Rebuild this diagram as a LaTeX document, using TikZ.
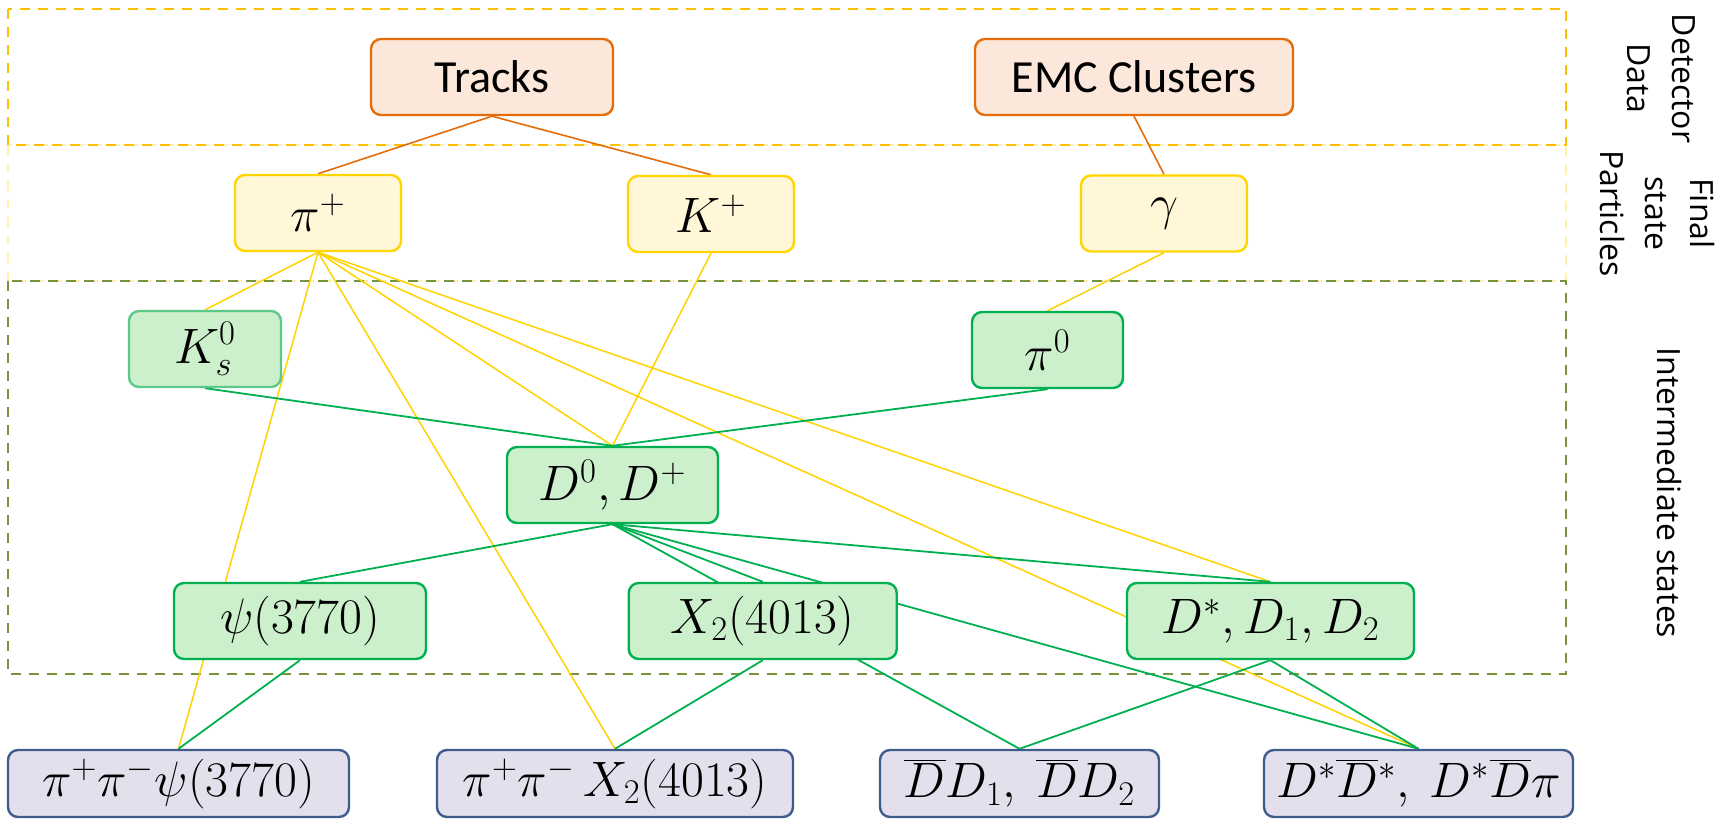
\documentclass[tikz,border=0pt]{standalone}
\usepackage[no-math]{fontspec}
\setmainfont{Carlito}
\newfontfamily\labfont{Open Sans}
\pgfdeclarelayer{back}
\pgfdeclarelayer{wires}
\pgfsetlayers{back,wires,main}
\definecolor{detB}{RGB}{228,108,10}
\definecolor{detF}{RGB}{252,232,218}
\definecolor{finB}{RGB}{255,214,0}
\definecolor{finF}{RGB}{255,247,216}
\definecolor{intB}{RGB}{0,176,80}
\definecolor{intF}{RGB}{204,239,204}
\definecolor{ksB}{RGB}{92,201,138}
\definecolor{endB}{RGB}{62,92,140}
\definecolor{endF}{RGB}{228,223,236}
\definecolor{yl}{RGB}{255,210,0}
\definecolor{topD}{RGB}{255,192,0}
\definecolor{paleD}{RGB}{255,240,170}
\definecolor{oliveD}{RGB}{119,147,60}
\begin{document}
\begin{tikzpicture}[x=0.5pt,y=-0.5pt,
  box/.style={draw, rounded corners=5pt, line width=1.2pt, minimum height=38pt, inner sep=0pt, font=\fontsize{25}{30}\selectfont},
  detbox/.style={box, draw=detB, fill=detF, font=\fontsize{23}{28}\selectfont},
  finbox/.style={box, draw=finB, fill=finF},
  intbox/.style={box, draw=intB, fill=intF},
  endbox/.style={box, draw=endB, fill=endF, minimum height=33.5pt},
  oline/.style={draw=detB, line width=0.8pt},
  yline/.style={draw=yl, line width=0.75pt},
  gline/.style={draw=intB, line width=0.9pt},
  sect/.style={line width=1.3pt, dash pattern=on 5pt off 4pt},
  lab/.style={rotate=-90, align=center, font=\labfont\fontsize{16}{22.5}\selectfont}
]
\useasboundingbox (0,0) rectangle (1732,824);

% nodes
\node[detbox, minimum width=121pt] (tracks) at (492,77) {Tracks};
\node[detbox, minimum width=159pt] (emc) at (1134,77) {EMC Clusters};

\node[finbox, minimum width=83pt] (pip) at (318,213) {$\pi^+$};
\node[finbox, minimum width=83pt] (kp) at (711,214) {$K^+$};
\node[finbox, minimum width=83pt] (gam) at (1164,213.5) {$\gamma$};

\node[intbox, draw=ksB, minimum width=76pt] (ks) at (205,349) {$K_s^0$};
\node[intbox, minimum width=75.5pt] (pi0) at (1047.5,350) {$\pi^0$};
\node[intbox, minimum width=105.5pt] (d0) at (612.5,485) {$D^0, D^+$};
\node[intbox, minimum width=126pt] (psi) at (300,621) {$\psi(3770)$};
\node[intbox, minimum width=134pt] (x2) at (762.75,621) {$X_2(4013)$};
\node[intbox, minimum width=143.5pt] (dst) at (1270.5,621) {$D^*, D_1, D_2$};

\node[endbox, minimum width=170.5pt] (f1) at (178.5,783.5) {$\pi^+\pi^-\psi(3770)$};
\node[endbox, minimum width=178pt] (f2) at (615,783.5) {$\pi^+\pi^-\,X_2(4013)$};
\node[endbox, minimum width=139.5pt] (f3) at (1019.5,783.5) {$\overline{D}D_1,\ \overline{D}D_2$};
\node[endbox, minimum width=154.5pt] (f4) at (1418.5,783.5) {$D^*\overline{D}{}^*,\ D^*\overline{D}\pi$};

% side labels
\node[lab] (l1) at (1661,78.5) {Detector\\Data};
\node[lab] (l2) at (1657,213.5) {Final\\state\\Particles};
\node[lab] (l3) at (1669,493) {Intermediate states};

% section frames
\begin{pgfonlayer}{back}
\draw[sect, draw=paleD] (8,145) rectangle (1566,281);
\draw[sect, draw=topD] (8,9) rectangle (1566,145);
\draw[sect, draw=oliveD] (8,281) rectangle (1566,674);
\end{pgfonlayer}

% connectors
\begin{pgfonlayer}{wires}
\draw[oline] (tracks.south) -- (pip.north);
\draw[oline] (tracks.south) -- (kp.north);
\draw[oline] (emc.south) -- (gam.north);
\draw[yline] (pip.south) -- (ks.north);
\draw[yline] (pip.south) -- (f1.north);
\draw[yline] (pip.south) -- (f2.north);
\draw[yline] (pip.south) -- (d0.north);
\draw[yline] (pip.south) -- (f4.north);
\draw[yline] (pip.south) -- (dst.north);
\draw[yline] (kp.south) -- (d0.north);
\draw[yline] (gam.south) -- (pi0.north);
\draw[gline] (ks.south) -- (d0.north);
\draw[gline] (pi0.south) -- (d0.north);
\draw[gline] (d0.south) -- (psi.north);
\draw[gline] (d0.south) -- (x2.north);
\draw[gline] (d0.south) -- (f3.north);
\draw[gline] (d0.south) -- (f4.north);
\draw[gline] (d0.south) -- (dst.north);
\draw[gline] (psi.south) -- (f1.north);
\draw[gline] (x2.south) -- (f2.north);
\draw[gline] (dst.south) -- (f3.north);
\draw[gline] (dst.south) -- (f4.north);
\end{pgfonlayer}
\end{tikzpicture}
\end{document}
